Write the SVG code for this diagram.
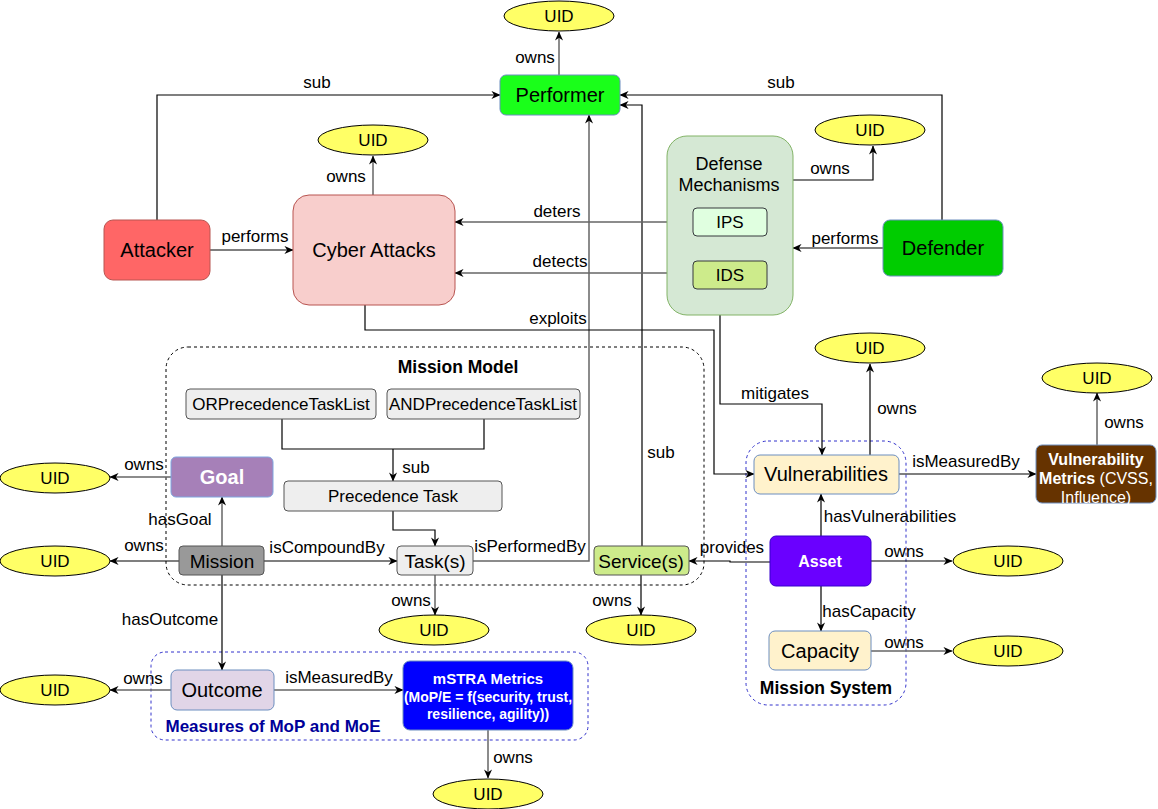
<svg xmlns="http://www.w3.org/2000/svg" width="1158" height="809" viewBox="0 0 1158 809">
<defs>
<marker id="arr" viewBox="0 0 10 10" refX="9.5" refY="5" markerWidth="9" markerHeight="9" markerUnits="userSpaceOnUse" orient="auto">
<path d="M0,0.5 L10,5 L0,9.5 L3,5 z" fill="#000"/>
</marker>
<style>
text{font-family:"Liberation Sans",Arial,sans-serif;}
.lbl{font-size:17px;fill:#000;text-anchor:middle;}
.nt{font-size:20px;fill:#000;text-anchor:middle;}
.st{font-size:17px;fill:#000;text-anchor:middle;}
.uid ellipse{fill:#ffff66;stroke:#000;stroke-width:1;}
.uid text{font-size:17px;text-anchor:middle;fill:#000;}
.c path{fill:none;stroke:#000;stroke-width:1.2;}
.c path.g{stroke:#666;stroke-width:1.5;}
.c path.a{marker-end:url(#arr);}
.hd{font-size:17.5px;font-weight:bold;text-anchor:middle;}
</style>
</defs>
<rect width="1158" height="809" fill="#fff"/>

<!-- containers -->
<g id="mission-model">
<rect x="166" y="347" width="538" height="238" rx="22" fill="none" stroke="#000" stroke-width="1" stroke-dasharray="3,3"/>
<text x="458" y="373" class="hd">Mission Model</text>
</g>
<g id="mission-system">
<rect x="746" y="441" width="160" height="264" rx="22" fill="none" stroke="#3333cc" stroke-width="1" stroke-dasharray="3,3"/>
<text x="826" y="694" class="hd">Mission System</text>
</g>
<g id="measures">
<rect x="151" y="652" width="437" height="88" rx="14" fill="none" stroke="#3333cc" stroke-width="1" stroke-dasharray="3,3"/>
<text x="273" y="732" style="font-size:17px;font-weight:bold;fill:#000099" text-anchor="middle">Measures of MoP and MoE</text>
</g>

<!-- connectors -->
<g id="connectors" class="c">
<path class="g a" d="M559,75 L559,32"/>
<path class="a" d="M157,220 L157,95 L500,95"/>
<path class="a" d="M942,220 L942,95 L620,95"/>
<path class="a" d="M642,546 L642,105 L620,105"/>
<path class="g a" d="M473,561 L589,561 L589,115"/>
<path class="g a" d="M373,195 L373,156"/>
<path class="a" d="M210,250 L293,250"/>
<path class="g a" d="M693,222 L455,222"/>
<path class="g a" d="M693,273 L455,273"/>
<path class="a" d="M365,305 L365,330 L714,330 L714,474 L754,474"/>
<path class="a" d="M720,315 L720,404 L822,404 L822,455"/>
<path class="a" d="M793,180 L873,180 L873,146"/>
<path class="a" d="M883,248 L793,248"/>
<path d="M282,419 L282,449 L484,449 L484,419"/>
<path class="a" d="M393,449 L393,481"/>
<path class="a" d="M393,511 L393,530 L435,530 L435,546"/>
<path class="a" d="M264,561 L397,561"/>
<path class="g a" d="M222,546 L222,497"/>
<path class="g a" d="M171,477 L110,477"/>
<path class="a" d="M179,561 L110,561"/>
<path class="a" d="M222,575 L222,670"/>
<path class="g a" d="M435,575 L435,615"/>
<path class="a" d="M770,562 L730,562 L730,561 L689,561"/>
<path class="a" d="M641,575 L641,615"/>
<path class="a" d="M870,455 L870,364"/>
<path class="a" d="M899,474 L1036,474"/>
<path class="g a" d="M1097,445 L1097,393"/>
<path class="a" d="M821,536 L821,494"/>
<path class="a" d="M871,561 L952,561"/>
<path class="a" d="M821,586 L821,631"/>
<path class="g a" d="M871,651 L952,651"/>
<path class="g a" d="M171,690 L110,690"/>
<path class="g a" d="M274,690 L403,690"/>
<path class="g a" d="M488,730 L488,778"/>
<text class="lbl" x="535" y="63">owns</text>
<text class="lbl" x="317" y="88">sub</text>
<text class="lbl" x="781" y="88">sub</text>
<text class="lbl" x="661" y="458">sub</text>
<text class="lbl" x="530" y="552">isPerformedBy</text>
<text class="lbl" x="346" y="182">owns</text>
<text class="lbl" x="255" y="242">performs</text>
<text class="lbl" x="557" y="217">deters</text>
<text class="lbl" x="560" y="267">detects</text>
<text class="lbl" x="558" y="324">exploits</text>
<text class="lbl" x="775" y="399">mitigates</text>
<text class="lbl" x="830" y="174">owns</text>
<text class="lbl" x="845" y="244">performs</text>
<text class="lbl" x="416" y="473">sub</text>
<text class="lbl" x="327" y="553">isCompoundBy</text>
<text class="lbl" x="180" y="525">hasGoal</text>
<text class="lbl" x="144" y="470">owns</text>
<text class="lbl" x="144" y="551">owns</text>
<text class="lbl" x="170" y="625">hasOutcome</text>
<text class="lbl" x="411" y="606">owns</text>
<text class="lbl" x="732" y="553">provides</text>
<text class="lbl" x="612" y="606">owns</text>
<text class="lbl" x="897" y="414">owns</text>
<text class="lbl" x="966" y="467">isMeasuredBy</text>
<text class="lbl" x="1124" y="428">owns</text>
<text class="lbl" x="890" y="522">hasVulnerabilities</text>
<text class="lbl" x="904" y="557">owns</text>
<text class="lbl" x="869" y="617">hasCapacity</text>
<text class="lbl" x="904" y="648">owns</text>
<text class="lbl" x="143" y="684">owns</text>
<text class="lbl" x="339" y="683">isMeasuredBy</text>
<text class="lbl" x="513" y="763">owns</text>
</g>

<!-- nodes -->
<g id="performer"><rect x="500" y="75" width="120" height="40" rx="6" fill="#1aff1a" stroke="#6c8ebf"/><text class="nt" x="560" y="102">Performer</text></g>
<g id="uid-performer" class="uid"><ellipse cx="559" cy="16" rx="55" ry="15"/><text x="559" y="22">UID</text></g>
<g id="attacker"><rect x="104" y="220" width="106" height="60" rx="9" fill="#ff6666" stroke="#b85450"/><text class="nt" x="157" y="257">Attacker</text></g>
<g id="cyber-attacks"><rect x="293" y="195" width="162" height="110" rx="16" fill="#f8cecc" stroke="#b85450"/><text class="nt" x="374" y="257">Cyber Attacks</text></g>
<g id="uid-cyber" class="uid"><ellipse cx="373" cy="140" rx="55" ry="15"/><text x="373" y="146">UID</text></g>
<g id="defense-mechanisms"><rect x="667" y="136" width="126" height="179" rx="20" fill="#d5e8d4" stroke="#82b366"/><text x="729" y="170" style="font-size:18px" text-anchor="middle">Defense</text><text x="729" y="191" style="font-size:18px" text-anchor="middle">Mechanisms</text></g>
<g id="ips"><rect x="693" y="208" width="74" height="28" rx="4" fill="#e0ffe0" stroke="#36393d"/><text class="st" x="730" y="228">IPS</text></g>
<g id="ids"><rect x="693" y="261" width="74" height="28" rx="4" fill="#cdeb8b" stroke="#36393d"/><text class="st" x="730" y="281">IDS</text></g>
<g id="uid-defense" class="uid"><ellipse cx="870" cy="130" rx="55" ry="15"/><text x="870" y="136">UID</text></g>
<g id="defender"><rect x="883" y="220" width="120" height="56" rx="7" fill="#00cc00" stroke="#6c8ebf"/><text class="nt" x="943" y="255">Defender</text></g>

<g id="or-list"><rect x="186" y="389" width="190" height="30" rx="4" fill="#eeeeee" stroke="#555"/><text class="st" x="281" y="410">ORPrecedenceTaskList</text></g>
<g id="and-list"><rect x="387" y="389" width="193" height="30" rx="4" fill="#eeeeee" stroke="#555"/><text class="st" x="483" y="410">ANDPrecedenceTaskList</text></g>
<g id="precedence-task"><rect x="284" y="481" width="218" height="30" rx="4" fill="#eeeeee" stroke="#555"/><text class="st" x="393" y="502">Precedence Task</text></g>
<g id="tasks"><rect x="397" y="546" width="76" height="29" rx="4" fill="#eeeeee" stroke="#555"/><text x="435" y="568" style="font-size:19px" text-anchor="middle">Task(s)</text></g>
<g id="mission"><rect x="179" y="546" width="85" height="29" rx="4" fill="#999999" stroke="#555"/><text x="222" y="568" style="font-size:19px" text-anchor="middle">Mission</text></g>
<g id="goal"><rect x="171" y="457" width="102" height="40" rx="5" fill="#a680b8" stroke="#7ea6e0"/><text x="222" y="484" style="font-size:20px;font-weight:bold;fill:#fff" text-anchor="middle">Goal</text></g>
<g id="uid-goal" class="uid"><ellipse cx="55" cy="478" rx="55" ry="15"/><text x="55" y="484">UID</text></g>
<g id="uid-mission" class="uid"><ellipse cx="55" cy="561" rx="55" ry="15"/><text x="55" y="567">UID</text></g>
<g id="uid-task" class="uid"><ellipse cx="434" cy="630" rx="55" ry="15"/><text x="434" y="636">UID</text></g>
<g id="services"><rect x="594" y="546" width="95" height="29" rx="4" fill="#cdeb8b" stroke="#555"/><text x="641" y="568" style="font-size:19px" text-anchor="middle">Service(s)</text></g>
<g id="uid-service" class="uid"><ellipse cx="641" cy="630" rx="55" ry="15"/><text x="641" y="636">UID</text></g>

<g id="vulnerabilities"><rect x="754" y="455" width="145" height="39" rx="6" fill="#fff2cc" stroke="#6c8ebf"/><text class="nt" x="826" y="481">Vulnerabilities</text></g>
<g id="uid-vuln" class="uid"><ellipse cx="870" cy="348" rx="55" ry="15"/><text x="870" y="354">UID</text></g>
<g id="vuln-metrics"><rect x="1036" y="445" width="120" height="58" rx="6" fill="#663300" stroke="#6c8ebf"/>
<text x="1096" y="465" style="font-size:16px;font-weight:bold;fill:#fff" text-anchor="middle">Vulnerability</text>
<text x="1096" y="484" style="font-size:16px;fill:#fff" text-anchor="middle"><tspan font-weight="bold">Metrics</tspan> (CVSS,</text>
<text x="1096" y="503" style="font-size:16px;fill:#fff" text-anchor="middle">Influence)</text></g>
<g id="uid-vm" class="uid"><ellipse cx="1097" cy="378" rx="55" ry="15"/><text x="1097" y="384">UID</text></g>
<g id="asset"><rect x="770" y="536" width="101" height="50" rx="6" fill="#6a00ff" stroke="#3700cc"/><text x="820" y="567" style="font-size:16px;font-weight:bold;fill:#fff" text-anchor="middle">Asset</text></g>
<g id="uid-asset" class="uid"><ellipse cx="1008" cy="561" rx="55" ry="15"/><text x="1008" y="567">UID</text></g>
<g id="capacity"><rect x="769" y="631" width="102" height="39" rx="6" fill="#fff2cc" stroke="#6c8ebf"/><text class="nt" x="820" y="658">Capacity</text></g>
<g id="uid-capacity" class="uid"><ellipse cx="1008" cy="651" rx="55" ry="15"/><text x="1008" y="657">UID</text></g>

<g id="outcome"><rect x="171" y="670" width="103" height="40" rx="6" fill="#e1d5e7" stroke="#6c8ebf"/><text class="nt" x="222" y="697">Outcome</text></g>
<g id="uid-outcome" class="uid"><ellipse cx="55" cy="690" rx="55" ry="15"/><text x="55" y="696">UID</text></g>
<g id="mstra"><rect x="403" y="661" width="170" height="69" rx="7" fill="#0000ff" stroke="#6c8ebf"/>
<text x="488" y="684" style="font-size:15px;font-weight:bold;fill:#fff" text-anchor="middle">mSTRA Metrics</text>
<text x="488" y="702" style="font-size:14px;font-weight:bold;fill:#fff" text-anchor="middle">(MoP/E = f(security, trust,</text>
<text x="488" y="719" style="font-size:14px;font-weight:bold;fill:#fff" text-anchor="middle">resilience, agility))</text></g>
<g id="uid-mstra" class="uid"><ellipse cx="488" cy="794" rx="55" ry="15"/><text x="488" y="800">UID</text></g>
</svg>
